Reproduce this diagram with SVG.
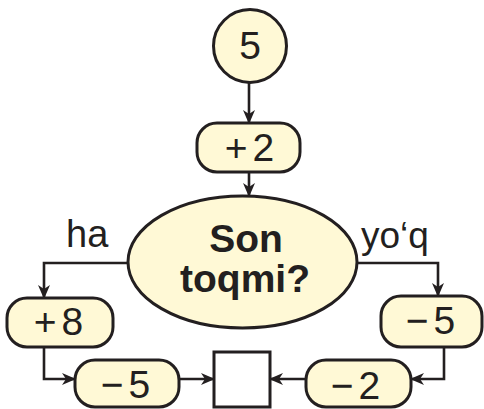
<svg xmlns="http://www.w3.org/2000/svg" width="484" height="409" viewBox="0 0 484 409">
<defs>
<marker id="ah" markerUnits="userSpaceOnUse" markerWidth="14" markerHeight="12" viewBox="0 0 14 12" refX="13" refY="6" orient="auto">
<path d="M0,0 L14,6 L0,12 L4,6 z" fill="#231f20"/>
</marker>
<style>
.n{fill:#fff9d6;stroke:#231f20;stroke-width:3}
.t{font-family:"Liberation Sans",Arial,sans-serif;font-size:39px;fill:#231f20;text-anchor:middle}
.b{font-weight:bold;font-size:39px}
.l{text-anchor:start;font-size:38px}
.c{fill:none;stroke:#231f20;stroke-width:2.6;marker-end:url(#ah)}
</style>
</defs>
<rect width="484" height="409" fill="#ffffff"/>
<g id="connectors">
<path class="c" d="M249,83 V123"/>
<path class="c" d="M249,172 V196"/>
<path class="c" d="M128,263 H44 V298"/>
<path class="c" d="M357,263 H438 V296"/>
<path class="c" d="M44,347 V379 H75"/>
<path class="c" d="M179,379 H214"/>
<path class="c" d="M306,379 H270"/>
<path class="c" d="M444,347 V379 H411"/>
</g>
<g id="start">
<circle class="n" cx="250" cy="46" r="36.5"/>
<text class="t" x="250" y="59">5</text>
</g>
<g id="plus2">
<rect class="n" x="197" y="123" width="103" height="49" rx="20"/>
<text class="t" x="252" y="161" letter-spacing="5">+2</text>
</g>
<g id="decision">
<ellipse class="n" cx="242.5" cy="262" rx="114.5" ry="66"/>
<text class="t b" x="246" y="252">Son</text>
<text class="t b" x="245" y="292">toqmi?</text>
</g>
<g id="label-ha"><text class="t l" x="66" y="247">ha</text></g>
<g id="label-yoq"><text class="t l" x="361" y="248" style="font-size:37px">yo‘q</text></g>
<g id="plus8">
<rect class="n" x="7" y="298" width="106" height="49" rx="20"/>
<text class="t" x="61" y="335" letter-spacing="5">+8</text>
</g>
<g id="minus5-right">
<rect class="n" x="381" y="296" width="101" height="51" rx="20"/>
<text class="t" x="433" y="334" letter-spacing="5">−5</text>
</g>
<g id="minus5-bottom">
<rect class="n" x="75" y="360" width="104" height="47" rx="20"/>
<text class="t" x="128" y="398" letter-spacing="5">−5</text>
</g>
<g id="result">
<rect x="214" y="352" width="56" height="55" fill="#ffffff" stroke="#231f20" stroke-width="3"/>
</g>
<g id="minus2">
<rect class="n" x="306" y="360" width="105" height="47" rx="20"/>
<text class="t" x="358" y="399" letter-spacing="5">−2</text>
</g>
</svg>
